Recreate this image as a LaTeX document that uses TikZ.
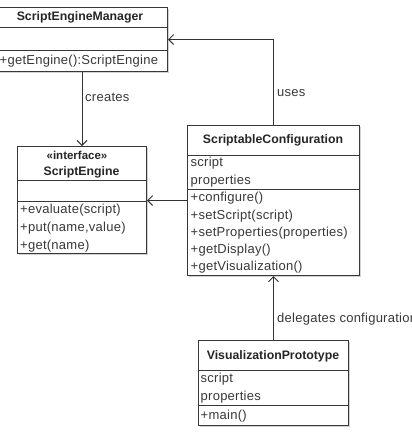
\documentclass[tikz,border=0pt]{standalone}
\usepackage{fontspec}
\setmainfont{Liberation Sans}
\usetikzlibrary{arrows.meta,shadows}
\begin{document}
\begin{tikzpicture}[x=1pt,y=-1pt,
  box/.style={draw=black!78, line width=1pt, fill=white, anchor=north west, inner sep=0pt,
    drop shadow={shadow xshift=1.5pt, shadow yshift=-1.5pt, opacity=0.35}},
  divider/.style={draw=black!78, line width=0.9pt},
  cname/.style={font=\fontsize{12.3}{14}\selectfont\bfseries, text=black!85, inner sep=0pt},
  mem/.style={font=\fontsize{13}{14}\selectfont\addfontfeature{LetterSpace=2}, text=black!78, anchor=west, inner sep=0pt},
  assoc/.style={draw=black!80, line width=0.9pt, -{Straight Barb[length=5pt,width=10pt]}}]
\useasboundingbox (0,0) rectangle (412,432);
\clip (0,0) rectangle (412,432);
% ScriptEngineManager
\node[box, minimum width=169pt, minimum height=64pt] (sem) at (-2,7) {};
\draw[divider] (sem.west |- 0,27) -- (sem.east |- 0,27);
\draw[divider] (sem.west |- 0,50) -- (sem.east |- 0,50);
\node[cname] (semname) at (80,17) {ScriptEngineManager};
\node[mem] (semm1) at (-0.5,61) {+getEngine():ScriptEngine};
% ScriptEngine
\node[box, minimum width=129pt, minimum height=107pt] (se) at (17,146) {};
\draw[divider] (se.west |- 0,180) -- (se.east |- 0,180);
\draw[divider] (se.west |- 0,201) -- (se.east |- 0,201);
\node[cname, font=\fontsize{11.5}{12}\selectfont\bfseries] (sest) at (77,155) {«interface»};
\node[cname] (sename) at (81.5,172) {ScriptEngine};
\node[mem] (sem1) at (20,210) {+evaluate(script)};
\node[mem] (sem2) at (20,228) {+put(name,value)};
\node[mem] (sem3) at (20,246) {+get(name)};
% ScriptableConfiguration
\node[box, minimum width=172pt, minimum height=150pt] (sc) at (187,125) {};
\draw[divider] (sc.west |- 0,155) -- (sc.east |- 0,155);
\draw[divider] (sc.west |- 0,189) -- (sc.east |- 0,189);
\node[cname] (scname) at (273,140) {ScriptableConfiguration};
\node[mem] (sca1) at (190.5,163) {script};
\node[mem] (sca2) at (190.5,181) {properties};
\node[mem] (scm1) at (190.5,198) {+configure()};
\node[mem] (scm2) at (190.5,216) {+setScript(script)};
\node[mem] (scm3) at (190.5,233) {+setProperties(properties)};
\node[mem] (scm4) at (190.5,250) {+getDisplay()};
\node[mem] (scm5) at (190.5,267) {+getVisualization()};
% VisualizationPrototype
\node[box, minimum width=150pt, minimum height=85pt] (vp) at (198,340) {};
\draw[divider] (vp.west |- 0,370) -- (vp.east |- 0,370);
\draw[divider] (vp.west |- 0,405) -- (vp.east |- 0,405);
\node[cname] (vpname) at (273,356) {VisualizationPrototype};
\node[mem] (vpa1) at (200.5,379) {script};
\node[mem] (vpa2) at (200.5,397) {properties};
\node[mem] (vpm1) at (200.5,416) {+main()};
% connectors
\draw[assoc] (sc.north) |- (sem.east);
\draw[assoc] (sem.south -| se.north) -- (se.north);
\draw[assoc] (sc.west) -- (se.east |- sc.west);
\draw[assoc] (vp.north) -- (sc.south);
% labels
\node[mem] (lcreates) at (85,97) {creates};
\node[mem] (luses) at (277,93) {uses};
\node[mem] (ldeleg) at (277,319) {delegates configuration};
\end{tikzpicture}
\end{document}
